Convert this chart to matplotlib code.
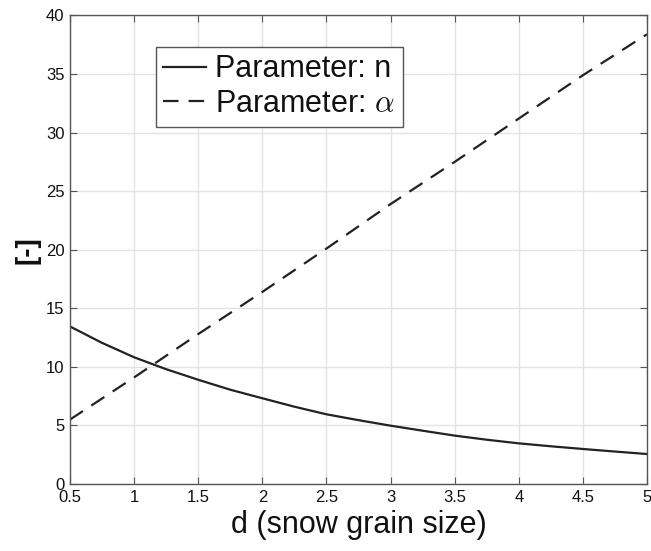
import matplotlib
matplotlib.use("Agg")
import matplotlib.pyplot as plt
import numpy as np

# ---------------------------------------------------------------- data
d_n = [0.5, 0.75, 1.0, 1.25, 1.5, 1.75, 2.0, 2.25, 2.5, 2.75,
       3.0, 3.25, 3.5, 3.75, 4.0, 4.25, 4.5, 4.75, 5.0]
n_vals = [13.45, 12.05, 10.82, 9.80, 8.90, 8.05, 7.32, 6.60, 5.95, 5.45,
          4.98, 4.55, 4.13, 3.78, 3.47, 3.22, 2.99, 2.77, 2.56]

d_alpha = [0.5, 1.0, 1.5, 2.0, 2.5, 3.0, 3.5, 4.0, 4.5, 5.0]
alpha_vals = [5.5, 9.1, 12.8, 16.4, 20.1, 23.9, 27.5, 31.2, 34.9, 38.4]

xticks = [0.5, 1, 1.5, 2, 2.5, 3, 3.5, 4, 4.5, 5]
xtick_labels = ["0.5", "1", "1.5", "2", "2.5", "3", "3.5", "4", "4.5", "5"]
yticks = [0, 5, 10, 15, 20, 25, 30, 35, 40]

# ---------------------------------------------------------------- style
plt.rcParams["font.family"] = ["Liberation Sans", "DejaVu Sans"]
plt.rcParams["mathtext.fontset"] = "cm"

axis_col = "#555555"
line_col = "#222222"

fig = plt.figure(figsize=(6.51, 5.51), dpi=100)
ax = fig.add_axes([0.1075, 0.1216, 0.8864, 0.8503])

ax.plot(d_n, n_vals, color=line_col, lw=1.6, label="Parameter: n")
ax.plot(d_alpha, alpha_vals, color=line_col, lw=1.6,
        linestyle=(0, (7.0, 4.5)), label=r"Parameter: $\alpha$")

ax.set_xlim(0.5, 5)
ax.set_ylim(0, 40)
ax.set_xticks(xticks)
ax.set_xticklabels(xtick_labels)
ax.set_yticks(yticks)

ax.grid(True, color="#e3e3e3", lw=1.0)
ax.set_axisbelow(True)

for sp in ax.spines.values():
    sp.set_color(axis_col)
    sp.set_linewidth(1.0)

ax.tick_params(direction="in", length=5, width=0.8, color=axis_col,
               top=True, right=True, labelsize=12, labelcolor="#111111",
               pad=4)

ax.set_xlabel("d (snow grain size)", fontsize=22, color="#111111", labelpad=4)
ax.set_ylabel("[-]", fontsize=20, fontweight="bold", color="#111111",
              labelpad=4)

leg = ax.legend(loc="upper left", bbox_to_anchor=(0.1485, 0.9334),
                borderaxespad=0, fontsize=22, handlelength=1.4,
                handletextpad=0.3, labelspacing=0.15, borderpad=0.25,
                fancybox=False, framealpha=1)
leg.get_frame().set_edgecolor(axis_col)
leg.get_frame().set_linewidth(1.0)
for t in leg.get_texts():
    t.set_color("#111111")

fig.savefig("out.png", dpi=100)
